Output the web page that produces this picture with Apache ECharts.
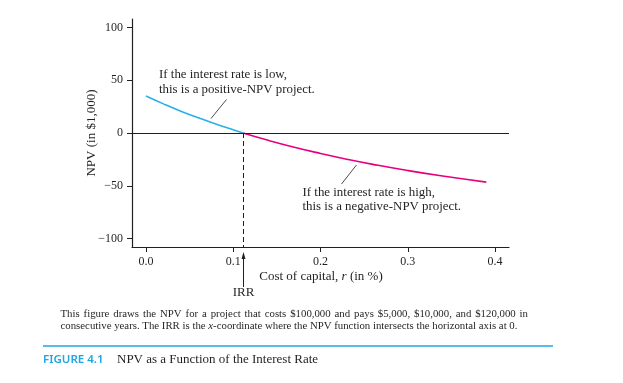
<!DOCTYPE html>
<html>
<head>
<meta charset="utf-8">
<script src="https://cdn.jsdelivr.net/npm/echarts@6/dist/echarts.min.js"></script>
<style>
html,body{margin:0;padding:0;background:#fff;}
#c{width:623px;height:383px;}
</style>
</head>
<body>
<div id="c"></div>
<script>
// Data (NPV in $1,000 vs cost of capital r)
var lowRateR   = [0.00, 0.02, 0.04, 0.06, 0.08, 0.10, 0.1112];
var lowRateNPV = [35.0, 27.6, 20.7, 14.4, 8.5, 3.0, 0.0];
var highRateR   = [0.1112, 0.14, 0.17, 0.20, 0.23, 0.26, 0.30, 0.34, 0.39];
var highRateNPV = [0.0, -6.9, -13.5, -19.4, -24.8, -29.7, -35.6, -40.8, -46.5];
var irr = 0.1112;
var xTicks = [0.0, 0.1, 0.2, 0.3, 0.4];
var yTicks = [-100, -50, 0, 50, 100];

var ink = '#231f20';
var cyan = '#1ea7e1';
var serif = '"Liberation Serif", "DejaVu Serif", serif';

function pairs(xs, ys){ return xs.map(function(x,i){ return [x, ys[i]]; }); }

var chart = echarts.init(document.getElementById('c'), null, {renderer:'canvas'});
chart.setOption({
  animation:false,
  backgroundColor:'#fff',
  grid:{left:132, right:114, top:19, bottom:136},
  xAxis:{
    type:'value', min:-0.016, max:0.416,
    axisLine:{onZero:false, lineStyle:{color:ink, width:1.2}},
    axisTick:{customValues:xTicks, length:5, lineStyle:{color:ink, width:1}},
    axisLabel:{customValues:xTicks, margin:9, color:ink, fontFamily:serif, fontSize:12,
      formatter:function(v){ return v.toFixed(1); }},
    splitLine:{show:false}
  },
  yAxis:{
    type:'value', min:-108, max:108,
    axisLine:{show:true, onZero:false, lineStyle:{color:ink, width:1.2}},
    axisTick:{show:true, customValues:yTicks, length:5, lineStyle:{color:ink, width:1}},
    axisLabel:{customValues:yTicks, margin:9, color:ink, fontFamily:serif, fontSize:12,
      formatter:function(v){ return v < 0 ? '\u2212' + Math.abs(v) : String(v); }},
    splitLine:{show:false}
  },
  series:[
    {
      type:'line', data:pairs(lowRateR, lowRateNPV), smooth:true, showSymbol:false,
      lineStyle:{color:'#29b0e6', width:1.6}, z:3
    },
    {
      type:'line', data:pairs(highRateR, highRateNPV), smooth:true, showSymbol:false,
      lineStyle:{color:'#e6007e', width:1.6}, z:3,
      markLine:{
        silent:true, symbol:['none','none'], animation:false,
        label:{show:false},
        data:[
          [{coord:[-0.016,0], lineStyle:{type:'solid', color:ink, width:1.2}},{coord:[0.416,0]}],
          [{coord:[irr,0], lineStyle:{type:[5,3], color:ink, width:1}},{coord:[irr,-108]}]
        ]
      }
    }
  ]
});

var pIrr = chart.convertToPixel({gridIndex:0}, [irr, -108]);
var xi = Math.round(pIrr[0]) + 0.5;
var axisY = pIrr[1];

// justified first caption line
var capFont = '10.8px ' + serif;
var cap1 = 'This figure draws the NPV for a project that costs $100,000 and pays $5,000, $10,000, and $120,000 in';
var capLeft = 60.5, capRight = 528;
var cv = document.createElement('canvas').getContext('2d');
cv.font = capFont;
var words = cap1.split(' ');
var wsum = 0;
words.forEach(function(w){ wsum += cv.measureText(w).width; });
var gap = (capRight - capLeft - wsum) / (words.length - 1);
var capGraphics = [];
var cx = capLeft;
words.forEach(function(w){
  capGraphics.push({type:'text', x:cx, y:314, style:{text:w, fill:ink, font:capFont, verticalAlign:'middle'}});
  cx += cv.measureText(w).width + gap;
});

chart.setOption({
  graphic:[
    // y-axis name
    {type:'text', x:92, y:133, rotation:Math.PI/2, style:{text:'NPV (in $1,000)', fill:ink, font:'13px ' + serif, align:'center', verticalAlign:'middle'}},
    // IRR arrow
    {type:'line', shape:{x1:xi, y1:axisY+12, x2:xi, y2:287}, style:{stroke:ink, lineWidth:1}},
    {type:'polygon', shape:{points:[[xi, axisY+5],[xi-2, axisY+12],[xi+2, axisY+12]]}, style:{fill:ink}},
    {type:'text', x:xi, y:293, style:{text:'IRR', fill:ink, font:'13px ' + serif, align:'center', verticalAlign:'middle'}},
    // x-axis name
    {type:'text', x:321, y:277, style:{
      text:'{a|Cost of capital, }{i|r}{a| (in %)}', align:'center', verticalAlign:'middle',
      rich:{a:{fontFamily:serif, fontSize:13, fill:ink}, i:{fontFamily:serif, fontSize:13, fontStyle:'italic', fill:ink}}}},
    // annotations
    {type:'text', x:159, y:82.5, style:{text:'If the interest rate is low,\nthis is a positive-NPV project.', fill:ink, font:'12.9px ' + serif, lineHeight:15, verticalAlign:'middle'}},
    {type:'line', shape:{x1:226.5, y1:99.5, x2:211, y2:118.5}, style:{stroke:ink, lineWidth:0.8}},
    {type:'text', x:302.5, y:200, style:{text:'If the interest rate is high,\nthis is a negative-NPV project.', fill:ink, font:'12.9px ' + serif, lineHeight:14, verticalAlign:'middle'}},
    {type:'line', shape:{x1:356.5, y1:165, x2:341.5, y2:184}, style:{stroke:ink, lineWidth:0.8}},
    // caption line 2
    {type:'text', x:60.5, y:326.5, style:{
      text:'{a|consecutive years. The IRR is the }{i|x}{a|-coordinate where the NPV function intersects the horizontal axis at 0.}',
      verticalAlign:'middle',
      rich:{a:{fontFamily:serif, fontSize:10.8, fill:ink}, i:{fontFamily:serif, fontSize:10.8, fontStyle:'italic', fill:ink}}}},
    {type:'line', shape:{x1:43, y1:346, x2:553, y2:346}, style:{stroke:cyan, lineWidth:1.4}},
    {type:'text', x:43, y:359.5, style:{text:'FIGURE 4.1', fill:cyan, font:'600 11.5px "Noto Sans", "Open Sans", sans-serif', verticalAlign:'middle'}},
    {type:'text', x:117, y:359.5, style:{text:'NPV as a Function of the Interest Rate', fill:ink, font:'13px ' + serif, verticalAlign:'middle'}}
  ].concat(capGraphics)
});
</script>
</body>
</html>
